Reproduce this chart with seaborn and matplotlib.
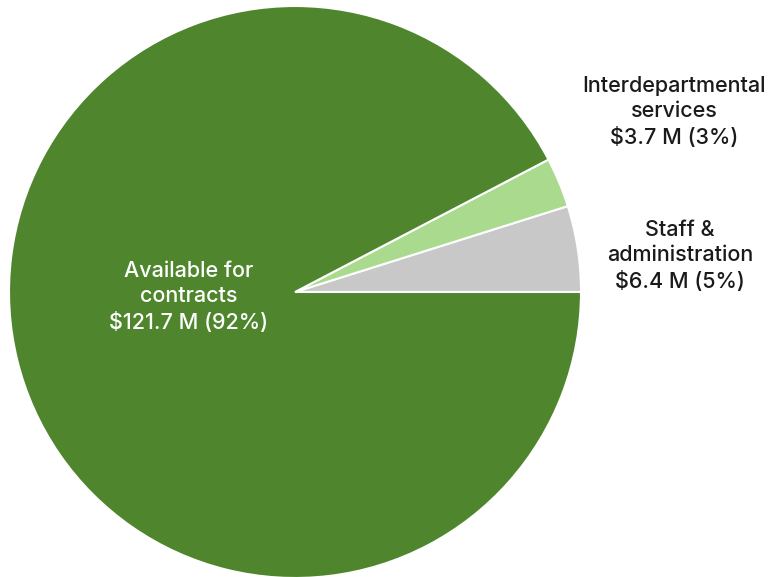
import seaborn as sns
import matplotlib.pyplot as plt

# data (counter-clockwise from 3 o'clock)
categories = ['Staff &\nadministration', 'Interdepartmental\nservices', 'Available for\ncontracts']
amounts = [6.4, 3.7, 121.7]
percents = [5, 3, 92]
colors = ['#c8c8c8', '#a9da8d', '#4f862d']

sns.set_theme(style='white')
plt.rcParams['font.family'] = ['Inter', 'DejaVu Sans']

fig = plt.figure(figsize=(7.71, 5.77), dpi=100)
ax = fig.add_axes([0, 0, 1, 1])

# pie centre / radius in pixels
cx, cy, r = 295, 292, 286
ax.pie(amounts, colors=colors, startangle=0, counterclock=True,
       radius=1, center=(0, 0),
       wedgeprops=dict(edgecolor='white', linewidth=1.5))
ax.set_xlim(-cx / r, (771 - cx) / r)
ax.set_ylim(-(577 - cy) / r, cy / r)
ax.set_aspect('auto')
ax.axis('off')


def to_data(px, py):
    return (px - cx) / r, (cy - py) / r


labels = [f'{c}\n${a} M ({p}%)' for c, a, p in zip(categories, amounts, percents)]
label_pos = [(680, 256), (674, 112), (189, 297)]
label_col = ['#1a1a1a', '#1a1a1a', 'white']
for lab, (px, py), col in zip(labels, label_pos, label_col):
    x, y = to_data(px, py)
    ax.text(x, y, lab, ha='center', va='center', fontsize=15.5,
            fontweight='medium', color=col, linespacing=1.36)

fig.savefig('out.png', dpi=100)
